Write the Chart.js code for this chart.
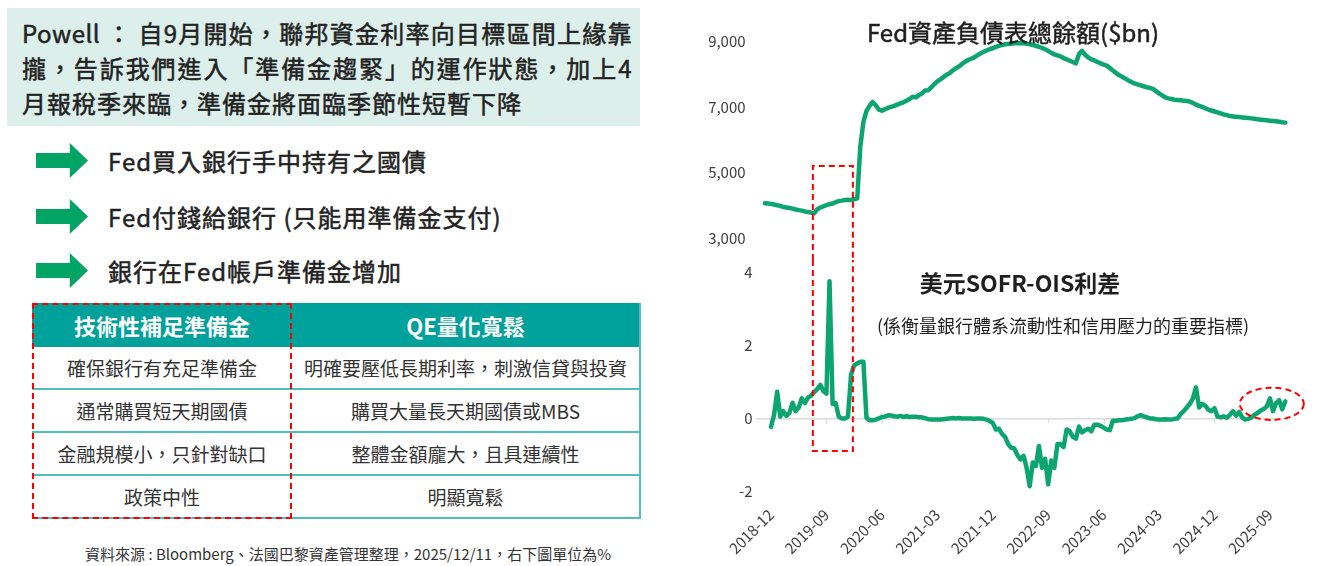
<!DOCTYPE html>
<html lang="zh-Hant">
<head>
<meta charset="UTF-8">
<title>Fed 準備金與 SOFR-OIS 利差</title>
<script src="https://cdn.jsdelivr.net/npm/chart.js@4.4.1/dist/chart.umd.min.js"></script>
<style>
    body {
        margin: 0;
        width: 1344px;
        height: 566px;
        position: relative;
        overflow: hidden;
        background: #fff;
        color: #262626;
        font-family: "Noto Sans CJK TC", "Noto Sans", sans-serif;
    }
    .medium { font-weight: normal; -webkit-text-stroke: 0.5px currentColor; }
    .note-box {
        position: absolute;
        left: 7px; top: 8px;
        width: 633px; height: 118px;
        box-sizing: border-box;
        padding: 7px 8px 0 15px;
        background: #dcefea;
        font-size: 24px;
        line-height: 35px;
        letter-spacing: 1px;
        color: #222;
    }
    .note-box .j { text-align: justify; text-align-last: justify; letter-spacing: 0.5px; }
    .step {
        position: absolute;
        left: 36px;
        height: 35px;
        display: flex;
        align-items: center;
        font-size: 24px;
        letter-spacing: 1px;
        color: #222;
        white-space: nowrap;
    }
    .step .arrow {
        width: 52px; height: 35px;
        margin-right: 20px;
        background: #00a566;
        clip-path: polygon(0 28.5%, 65% 28.5%, 65% 0, 100% 50%, 65% 100%, 65% 71.5%, 0 71.5%);
    }
    table.compare {
        position: absolute;
        left: 32px; top: 303px;
        width: 608px;
        border-collapse: collapse;
        table-layout: fixed;
        font-size: 19px;
        color: #333;
    }
    table.compare th {
        height: 44px;
        padding: 0;
        background: #00a19b;
        color: #fff;
        font-size: 22px;
        font-weight: bold;
    }
    table.compare td {
        height: 41px;
        padding: 0;
        text-align: center;
        border-bottom: 2px solid #4cbfbf;
        white-space: nowrap;
    }
    table.compare td:last-child, table.compare th:last-child { border-right: 2px solid #4cbfbf; }
    .dash-col {
        position: absolute;
        left: 32px; top: 303px;
        width: 260px; height: 216px;
        box-sizing: border-box;
        border: 2px dashed #ff0000;
    }
    .source {
        position: absolute;
        left: 348px; top: 553px;
        transform: translate(-50%, -50%);
        font-size: 15px;
        white-space: nowrap;
        color: #333;
    }
    .chart-title {
        position: absolute;
        transform: translate(-50%, -50%);
        white-space: nowrap;
        line-height: 1;
        color: #1f1f1f;
    }
    canvas { position: absolute; left: 690px; }
</style>
</head>
<body>
    <div class="note-box medium">
        <div class="j">Powell ： 自9月開始，聯邦資金利率向目標區間上緣靠</div>
        <div class="j">攏，告訴我們進入「準備金趨緊」的運作狀態，加上4</div>
        <div>月報稅季來臨，準備金將面臨季節性短暫下降</div>
    </div>

    <div class="step medium" style="top:143px"><div class="arrow"></div>Fed買入銀行手中持有之國債</div>
    <div class="step medium" style="top:199px"><div class="arrow"></div>Fed付錢給銀行 (只能用準備金支付)</div>
    <div class="step medium" style="top:253px"><div class="arrow"></div>銀行在Fed帳戶準備金增加</div>

    <table class="compare">
        <colgroup><col style="width:260px"><col style="width:348px"></colgroup>
        <tr><th>技術性補足準備金</th><th>QE量化寬鬆</th></tr>
        <tr><td>確保銀行有充足準備金</td><td>明確要壓低長期利率，刺激信貸與投資</td></tr>
        <tr><td>通常購買短天期國債</td><td>購買大量長天期國債或MBS</td></tr>
        <tr><td>金融規模小，只針對缺口</td><td>整體金額龐大，且具連續性</td></tr>
        <tr><td>政策中性</td><td>明顯寬鬆</td></tr>
    </table>
    <div class="dash-col"></div>

    <div class="source">資料來源 : Bloomberg、法國巴黎資產管理整理，2025/12/11，右下圖單位為%</div>

    <canvas id="fedChart" width="654" height="260" style="top:0"></canvas>
    <canvas id="sofrChart" width="654" height="306" style="top:260px"></canvas>

    <div class="chart-title medium" style="left:1013px; top:32px; font-size:24px;">Fed資產負債表總餘額($bn)</div>
    <div class="chart-title" style="left:1020px; top:282px; font-size:23px; font-weight:bold;">美元SOFR-OIS利差</div>
    <div class="chart-title" style="left:1063px; top:325px; font-size:18px;">(係衡量銀行體系流動性和信用壓力的重要指標)</div>

<script>
    // x axis in months since 2018-12, one point every half month
    const tickMonths = [0, 9, 18, 27, 36, 45, 54, 63, 72, 81];
    const tickLabels = ['2018-12', '2019-09', '2020-06', '2021-03', '2021-12',
                        '2022-09', '2023-06', '2024-03', '2024-12', '2025-09'];
    const stepMonths = 0.5;

    // Fed balance sheet ($bn), starts 2018-11
    const fedStartMonth = -1;
    const fedBalance = [
        4070, 4060, 4050, 4030, 4010, 3990, 3955, 3940, 3925, 3905,
        3880, 3860, 3845, 3820, 3800, 3785, 3763, 3880, 3940, 3975,
        4010, 4040, 4060, 4100, 4140, 4150, 4170, 4175, 4170, 4190,
        4220, 5800, 6550, 6890, 7040, 7160, 7060, 6930, 6896, 6940,
        6980, 7010, 7040, 7080, 7122, 7150, 7200, 7250, 7320, 7300,
        7370, 7420, 7510, 7520, 7600, 7700, 7790, 7850, 7920, 7990,
        8040, 8120, 8190, 8240, 8320, 8390, 8440, 8480, 8520, 8580,
        8640, 8690, 8730, 8770, 8800, 8840, 8870, 8900, 8920, 8930,
        8940, 8950, 8955, 8960, 8950, 8940, 8920, 8900, 8870, 8840,
        8810, 8770, 8720, 8660, 8610, 8580, 8550, 8500, 8460, 8420,
        8380, 8340, 8620, 8720, 8600, 8520, 8460, 8430, 8380, 8340,
        8300, 8270, 8200, 8120, 8050, 7980, 7930, 7880, 7820, 7770,
        7730, 7700, 7670, 7640, 7610, 7590, 7560, 7490, 7420, 7360,
        7300, 7270, 7250, 7230, 7220, 7210, 7200, 7190, 7170, 7130,
        7080, 7040, 7010, 6970, 6930, 6900, 6870, 6840, 6810, 6780,
        6760, 6730, 6720, 6710, 6700, 6690, 6680, 6670, 6660, 6650,
        6630, 6620, 6610, 6600, 6590, 6580, 6570, 6560, 6540, 6530
    ];
    const fedTicks = [3000, 5000, 7000, 9000];

    // SOFR-OIS spread (%), starts 2018-12
    const sofrStartMonth = 0;
    const sofrOis = [
        -0.23, 0.1, 0.73, 0.05, 0.2, 0.07, 0.15, 0.43, 0.2, 0.3,
        0.55, 0.42, 0.57, 0.62, 0.72, 0.8, 0.92, 0.75, 0.68, 3.75,
        0.4, 0.42, 0.05, 0.0, 0.0, 0.05, 1.2, 1.45, 1.5, 1.55,
        1.55, 0.02, -0.05, -0.05, -0.03, 0.0, 0.04, 0.05, 0.09, 0.08,
        0.06, 0.05, 0.07, 0.04, 0.06, 0.04, 0.05, 0.05, 0.03, 0.03,
        0.01, -0.02, -0.03, -0.03, -0.03, -0.03, -0.02, -0.01, 0.0, 0.01,
        0.0, 0.01, 0.0, 0.0, 0.0, 0.0, -0.01, 0.0, 0.0, -0.01,
        -0.03, -0.07, -0.12, -0.3, -0.28, -0.42, -0.5, -0.7, -0.8, -0.82,
        -1.0, -1.12, -1.02, -1.35, -1.85, -1.2, -1.3, -0.75, -1.35, -1.1,
        -1.8, -1.15, -1.35, -0.7, -0.7, -0.78, -0.3, -0.35, -0.5, -0.55,
        -0.22, -0.38, -0.32, -0.28, -0.35, -0.17, -0.17, -0.2, -0.25, -0.3,
        -0.32, -0.06, -0.06, -0.05, -0.05, -0.03, -0.02, -0.01, 0.01, 0.06,
        0.09, 0.06, 0.03, 0.0, 0.0, -0.02, -0.03, -0.03, -0.02, -0.03,
        -0.03, -0.01, 0.0, 0.12, 0.2, 0.3, 0.4, 0.55, 0.85, 0.3,
        0.4, 0.35, 0.24, 0.2, 0.28, 0.05, 0.03, 0.06, 0.02, 0.1,
        0.2, 0.08, 0.18, 0.03, -0.03, -0.01, 0.03, 0.1, 0.15, 0.22,
        0.26, 0.33, 0.55, 0.2, 0.42, 0.5, 0.25, 0.47
    ];
    const sofrTicks = [-2, 0, 2, 4];

    // red highlights: 2019 repo episode box and the recent period ellipse
    const repoBox = { fromMonth: 6.8, toMonth: 13.3, fedTop: 5210, sofrBottom: -0.89 };
    const recentRing = { month: 81.3, value: 0.4, halfMonths: 5.2, halfValue: 0.44 };

    const green = '#0da56f';
    const axisFont = { family: '"Noto Sans CJK TC", "Noto Sans", sans-serif', size: 15 };
    const xMin = -2.5, xMax = 84;

    function toPoints(values, start) {
        return values.map((v, i) => ({ x: start + i * stepMonths, y: v }));
    }

    function redPen(ctx) {
        ctx.strokeStyle = '#ff0000';
        ctx.lineWidth = 2;
        ctx.setLineDash([6, 4]);
    }

    const boxTop = {
        id: 'boxTop',
        afterDraw(chart) {
            const { ctx, scales: { x, y } } = chart;
            const x1 = x.getPixelForValue(repoBox.fromMonth);
            const x2 = x.getPixelForValue(repoBox.toMonth);
            const yt = y.getPixelForValue(repoBox.fedTop);
            ctx.save();
            redPen(ctx);
            ctx.beginPath();
            ctx.moveTo(x1, chart.height);
            ctx.lineTo(x1, yt);
            ctx.lineTo(x2, yt);
            ctx.lineTo(x2, chart.height);
            ctx.stroke();
            ctx.restore();
        }
    };

    const boxBottom = {
        id: 'boxBottom',
        afterDraw(chart) {
            const { ctx, scales: { x, y } } = chart;
            const x1 = x.getPixelForValue(repoBox.fromMonth);
            const x2 = x.getPixelForValue(repoBox.toMonth);
            const yb = y.getPixelForValue(repoBox.sofrBottom);
            const cx = x.getPixelForValue(recentRing.month);
            const cy = y.getPixelForValue(recentRing.value);
            const rx = x.getPixelForValue(recentRing.month + recentRing.halfMonths) - cx;
            const ry = cy - y.getPixelForValue(recentRing.value + recentRing.halfValue);
            ctx.save();
            redPen(ctx);
            ctx.beginPath();
            ctx.moveTo(x1, 0);
            ctx.lineTo(x1, yb);
            ctx.lineTo(x2, yb);
            ctx.lineTo(x2, 0);
            ctx.stroke();
            ctx.beginPath();
            ctx.ellipse(cx, cy, rx, ry, 0, 0, Math.PI * 2);
            ctx.stroke();
            ctx.restore();
        }
    };

    // small tick marks hanging from the zero line
    const zeroTicks = {
        id: 'zeroTicks',
        beforeDatasetsDraw(chart) {
            const { ctx, scales: { x, y } } = chart;
            const y0 = y.getPixelForValue(0);
            ctx.save();
            ctx.strokeStyle = '#d9d9d9';
            ctx.lineWidth = 1;
            tickMonths.forEach(m => {
                const px = Math.round(x.getPixelForValue(m)) + 0.5;
                ctx.beginPath();
                ctx.moveTo(px, y0);
                ctx.lineTo(px, y0 + 5);
                ctx.stroke();
            });
            ctx.restore();
        }
    };

    const lineStyle = {
        borderColor: green,
        borderWidth: 4.5,
        pointRadius: 0,
        tension: 0,
        fill: false,
        clip: false,
        borderJoinStyle: 'round',
        borderCapStyle: 'round'
    };

    // Fed balance sheet chart
    new Chart(document.getElementById('fedChart'), {
        type: 'line',
        data: { datasets: [Object.assign({ data: toPoints(fedBalance, fedStartMonth) }, lineStyle)] },
        options: {
            responsive: false,
            animation: false,
            events: [],
            layout: { padding: { left: 0, right: 55.6, top: 41.7, bottom: 21.7 } },
            plugins: { legend: { display: false }, tooltip: { enabled: false } },
            scales: {
                x: { type: 'linear', display: false, min: xMin, max: xMax },
                y: {
                    min: 3000,
                    max: 9000,
                    afterFit: s => { s.width = 65.6; },
                    afterBuildTicks: s => { s.ticks = fedTicks.map(v => ({ value: v })); },
                    grid: { display: false, drawTicks: false },
                    border: { display: false },
                    ticks: {
                        padding: 10,
                        color: '#404040',
                        font: axisFont,
                        callback: v => v.toLocaleString('en-US')
                    }
                }
            }
        },
        plugins: [boxTop]
    });

    // SOFR-OIS spread chart
    new Chart(document.getElementById('sofrChart'), {
        type: 'line',
        data: { datasets: [Object.assign({ data: toPoints(sofrOis, sofrStartMonth) }, lineStyle)] },
        options: {
            responsive: false,
            animation: false,
            events: [],
            layout: { padding: { left: 0, right: 55.6, top: 11.7, bottom: 0 } },
            plugins: { legend: { display: false }, tooltip: { enabled: false } },
            scales: {
                x: {
                    type: 'linear',
                    min: xMin,
                    max: xMax,
                    afterFit: s => { s.height = 74.3; },
                    afterBuildTicks: s => { s.ticks = tickMonths.map(v => ({ value: v })); },
                    grid: { display: false, drawTicks: false },
                    border: { display: false },
                    ticks: {
                        autoSkip: false,
                        minRotation: 45,
                        maxRotation: 45,
                        padding: 14,
                        color: '#404040',
                        font: axisFont,
                        callback: v => tickLabels[tickMonths.indexOf(v)]
                    }
                },
                y: {
                    min: -2,
                    max: 4,
                    afterFit: s => { s.width = 65.6; },
                    afterBuildTicks: s => { s.ticks = sofrTicks.map(v => ({ value: v })); },
                    grid: {
                        drawTicks: false,
                        lineWidth: 1.5,
                        color: c => (c.tick && c.tick.value === 0 ? '#d9d9d9' : 'rgba(0,0,0,0)')
                    },
                    border: { display: false },
                    ticks: {
                        padding: 3,
                        color: '#404040',
                        font: axisFont
                    }
                }
            }
        },
        plugins: [zeroTicks, boxBottom]
    });
</script>
</body>
</html>
